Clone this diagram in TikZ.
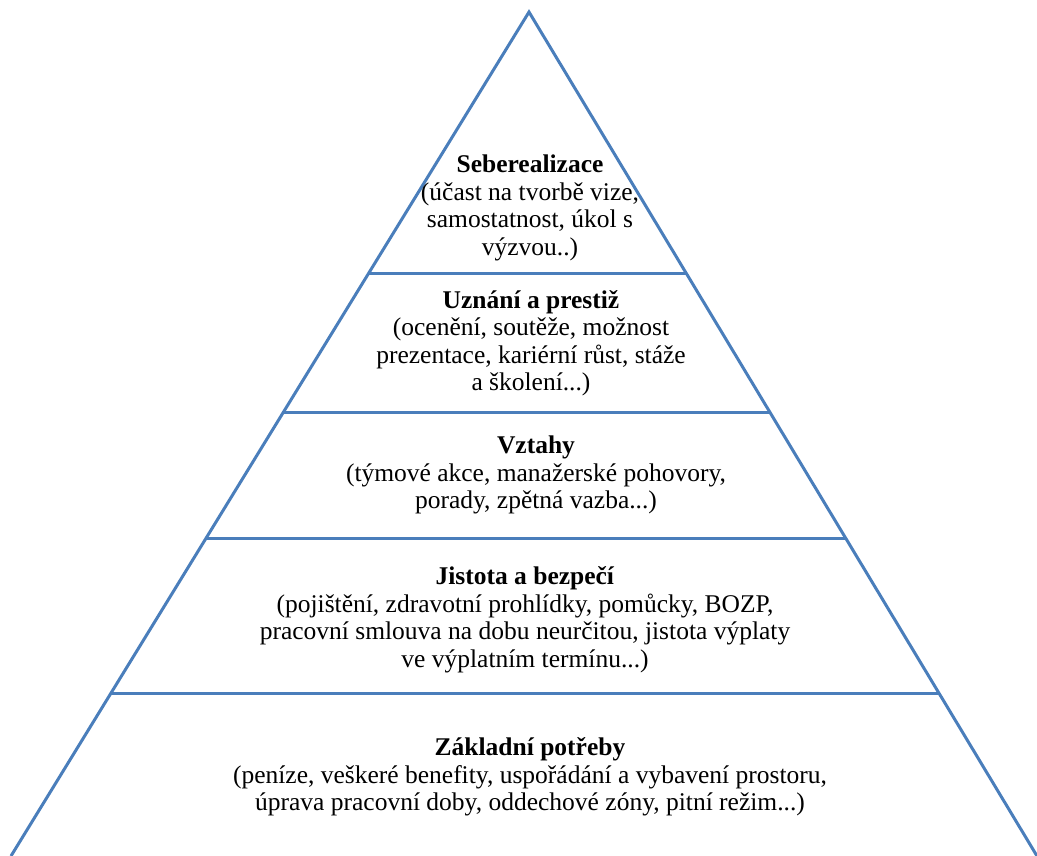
\documentclass[tikz,border=0pt]{standalone}
\usepackage{fontspec}
\setmainfont{Liberation Serif}
\begin{document}
\begin{tikzpicture}[x=1pt,y=-1pt,
  edge/.style={draw=pyrblue,line width=3pt},
  lbl/.style={align=center,font=\fontsize{25.5}{27.5}\selectfont,inner sep=0pt}]
\definecolor{pyrblue}{HTML}{4A7EBB}
\useasboundingbox (0,0) rectangle (1037,855);
\coordinate (apex) at (529,12);
\coordinate (bl) at (11,856);
\coordinate (br) at (1037,856);
\draw[edge,line join=miter] (bl) -- (apex) -- (br);
\foreach \y/\n in {273/a,412/b,538/c,693/d}{
  \path (bl) -- (apex) coordinate[pos={(856-\y)/844}] (l\n);
  \path (br) -- (apex) coordinate[pos={(856-\y)/844}] (r\n);
  \draw[edge] (l\n) -- (r\n);
}
\node[lbl] (t1) at (530,208) {\textbf{Seberealizace}\\(účast na tvorbě vize,\\samostatnost, úkol s\\výzvou..)};
\node[lbl] (t2) at (531,343) {\textbf{Uznání a prestiž}\\(ocenění, soutěže, možnost\\prezentace, kariérní růst, stáže\\a školení...)};
\node[lbl] (t3) at (536,475) {\textbf{Vztahy}\\(týmové akce, manažerské pohovory,\\porady, zpětná vazba...)};
\node[lbl] (t4) at (525,620) {\textbf{Jistota a bezpečí}\\(pojištění, zdravotní prohlídky, pomůcky, BOZP,\\pracovní smlouva na dobu neurčitou, jistota výplaty\\ve výplatním termínu...)};
\node[lbl] (t5) at (530,777) {\textbf{Základní potřeby}\\(peníze, veškeré benefity, uspořádání a vybavení prostoru,\\úprava pracovní doby, oddechové zóny, pitní režim...)};
\end{tikzpicture}
\end{document}
